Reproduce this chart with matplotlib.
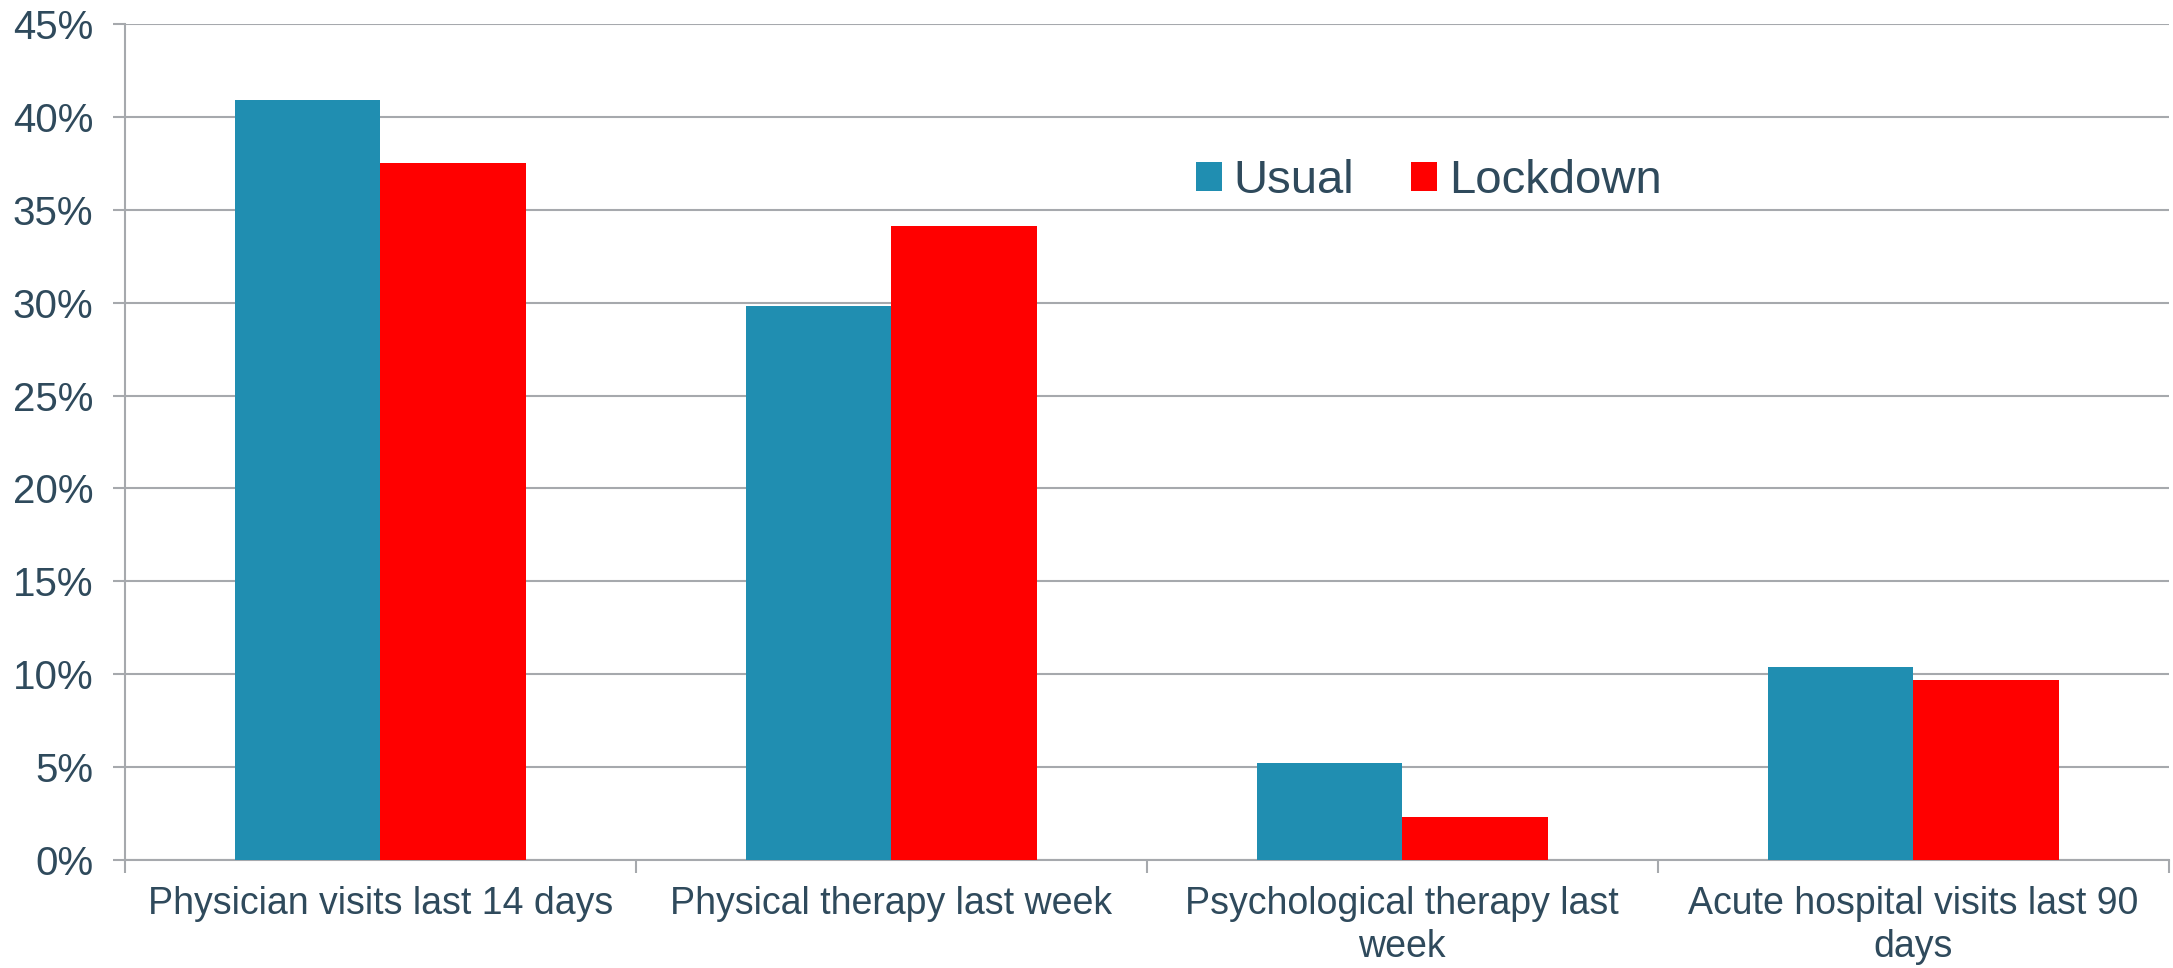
import numpy as np
import matplotlib.pyplot as plt
from matplotlib.ticker import PercentFormatter

categories = ["Physician visits last 14 days", "Physical therapy last week",
              "Psychological therapy last\nweek", "Acute hospital visits last 90\ndays"]
usual = [40.9, 29.8, 5.2, 10.4]
lockdown = [37.5, 34.1, 2.3, 9.7]
yticks = [0, 5, 10, 15, 20, 25, 30, 35, 40, 45]

text_col = "#2F4A5C"
grid_col = "#A6A9AD"
plt.rcParams["font.family"] = ["Liberation Sans", "DejaVu Sans"]

fig = plt.figure(figsize=(21.73, 9.68), dpi=100)
ax = fig.add_axes([0.0575, 0.1116, 0.9405, 0.8636])

x = np.arange(len(categories))
w = 0.285
ax.bar(x - w / 2, usual, w, color="#208EB1", label="Usual", zorder=3)
ax.bar(x + w / 2, lockdown, w, color="#FF0000", label="Lockdown", zorder=3)

ax.set_xlim(-0.5, len(categories) - 0.5)
ax.set_ylim(0, 45)
ax.set_yticks(yticks)
ax.yaxis.set_major_formatter(PercentFormatter(decimals=0))
ax.yaxis.grid(True, color=grid_col, linewidth=1.5, zorder=0)

ax.set_xticks(x)
ax.set_xticklabels(categories, linespacing=1.25)
ax.set_xticks(np.arange(-0.5, len(categories)), minor=True)
ax.tick_params(axis="x", which="major", length=0, pad=19, labelsize=27, labelcolor=text_col)
ax.tick_params(axis="x", which="minor", length=9, width=1.5, color=grid_col)
ax.tick_params(axis="y", length=9, width=1.5, color=grid_col, pad=14, labelsize=29, labelcolor=text_col)

for s in ["top", "right"]:
    ax.spines[s].set_visible(False)
for s in ["left", "bottom"]:
    ax.spines[s].set_color(grid_col)
    ax.spines[s].set_linewidth(1.5)

leg = ax.legend(loc="center", bbox_to_anchor=(0.638, 0.812), ncol=2, frameon=False,
                fontsize=34, handlelength=0.55, handleheight=0.55, handletextpad=0.25,
                columnspacing=1.2, labelcolor=text_col)

fig.savefig("out.png", dpi=100)
